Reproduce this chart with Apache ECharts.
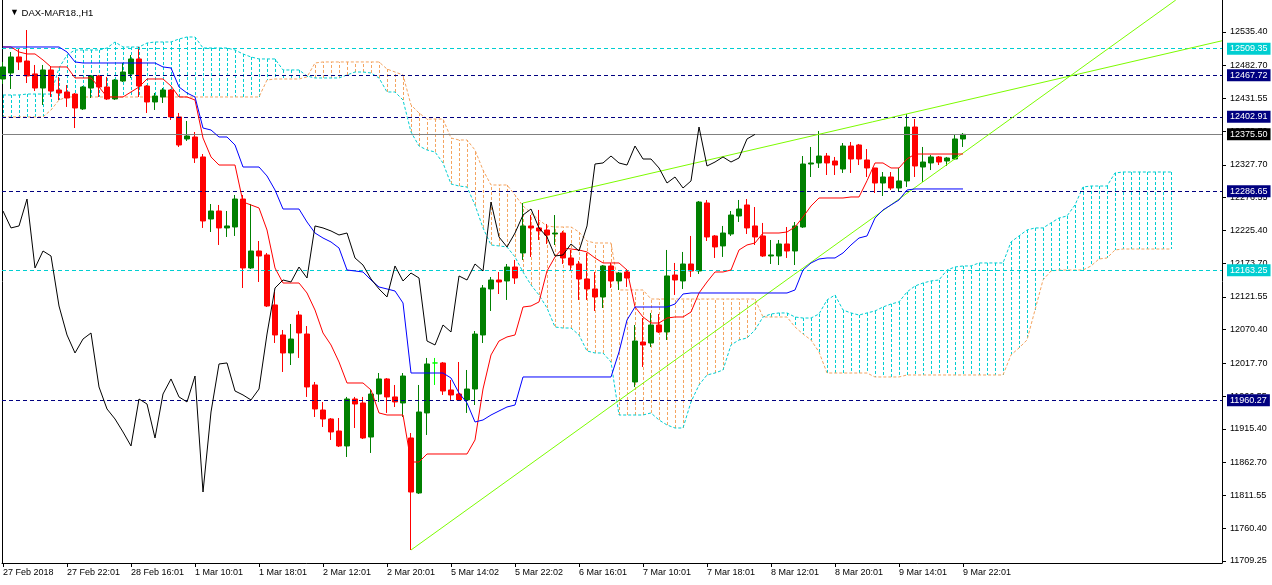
<!DOCTYPE html>
<html>
<head>
<meta charset="utf-8">
<title>DAX-MAR18.,H1</title>
<script src="https://cdn.jsdelivr.net/npm/echarts@6/dist/echarts.min.js"></script>
<style>
  html, body { margin: 0; padding: 0; background: #fff; }
  #main { width: 1272px; height: 585px; }
</style>
</head>
<body>
<div id="main"></div>
<script>
// DAX March future, H1 bars (09:01 - 22:01 each day)
const timeLabels = ['27 Feb 2018', '27 Feb 22:01', '28 Feb 16:01', '1 Mar 10:01', '1 Mar 18:01',
  '2 Mar 12:01', '2 Mar 20:01', '5 Mar 14:02', '5 Mar 22:02', '6 Mar 16:01', '7 Mar 10:01',
  '7 Mar 18:01', '8 Mar 12:01', '8 Mar 20:01', '9 Mar 14:01', '9 Mar 22:01'];
const labelStep = 8; // one time label every 8 bars

const opens = [
  12462.0, 12471.4, 12496.4, 12490.1, 12469.9, 12447.9, 12476.1, 12444.8, 12441.7, 12438.5,
  12415.2, 12447.9, 12466.7, 12449.5, 12430.8, 12458.8, 12469.9, 12493.3, 12451.0, 12426.1,
  12433.9, 12444.8, 12402.7, 12368.3, 12371.4, 12340.2, 12243.3, 12255.8, 12229.3, 12230.8,
  12274.5, 12166.8, 12193.3, 12187.1, 12109.0, 12062.1, 12034.0, 12093.3, 12063.6, 11984.0,
  11944.9, 11930.9, 11912.1, 11888.7, 11962.1, 11955.9, 11902.7, 11969.9, 11993.4, 11965.3,
  11955.9, 11901.2, 11815.3, 11940.3, 12018.4, 12018.4, 11976.2, 11969.9, 11960.6, 11977.7,
  12062.1, 12134.0, 12148.0, 12146.5, 12168.3, 12190.2, 12232.4, 12229.3, 12226.1, 12219.9,
  12221.4, 12182.4, 12173.0, 12149.6, 12134.0, 12121.5, 12169.9, 12146.5, 12160.5, 11988.7,
  12051.1, 12049.6, 12077.7, 12066.8, 12155.8, 12146.5, 12173.0, 12162.1, 12268.3, 12216.8,
  12201.2, 12219.9, 12248.0, 12265.2, 12232.4, 12216.8, 12185.5, 12185.5, 12204.3, 12193.3,
  12230.8, 12329.2, 12330.8, 12341.7, 12333.9, 12321.4, 12357.3, 12358.9, 12335.5, 12323.0,
  12299.5, 12308.9, 12291.7, 12302.7, 12387.0, 12324.5, 12330.8, 12340.2, 12333.9, 12337.0,
  12368.3];
const closes = [
  12480.8, 12496.4, 12488.6, 12466.7, 12447.9, 12476.1, 12443.2, 12440.1, 12432.3, 12416.7,
  12449.5, 12466.7, 12449.5, 12430.8, 12460.4, 12472.9, 12493.3, 12451.0, 12426.1, 12435.4,
  12444.8, 12402.7, 12358.9, 12373.0, 12338.6, 12240.2, 12255.8, 12229.3, 12232.4, 12274.5,
  12166.8, 12193.3, 12185.5, 12107.4, 12062.1, 12034.0, 12055.8, 12065.2, 11980.9, 11946.5,
  11930.9, 11910.6, 11888.7, 11962.1, 11954.3, 11901.2, 11969.9, 11993.4, 11965.3, 11957.5,
  11998.0, 11816.8, 11941.8, 12016.8, 12018.4, 11974.6, 11968.4, 11960.6, 11977.7, 12063.6,
  12135.5, 12148.0, 12144.9, 12168.3, 12151.1, 12232.4, 12229.3, 12224.6, 12218.3, 12221.4,
  12182.4, 12171.4, 12149.6, 12134.0, 12121.5, 12169.9, 12146.5, 12158.9, 12151.1, 12052.7,
  12046.5, 12077.7, 12066.8, 12154.3, 12148.0, 12173.0, 12162.1, 12269.8, 12215.2, 12199.6,
  12221.4, 12249.5, 12258.9, 12229.3, 12215.2, 12185.5, 12187.1, 12204.3, 12193.3, 12232.4,
  12329.2, 12330.8, 12341.7, 12330.8, 12327.6, 12357.3, 12337.0, 12337.0, 12323.0, 12299.5,
  12308.9, 12291.7, 12302.7, 12387.0, 12326.1, 12332.3, 12340.2, 12332.3, 12338.6, 12368.3,
  12375.5];
const lows = [
  12454.2, 12446.4, 12476.1, 12455.7, 12443.2, 12421.4, 12433.9, 12429.2, 12418.3, 12385.4,
  12413.6, 12432.3, 12433.9, 12429.2, 12429.2, 12457.3, 12463.6, 12433.9, 12408.9, 12413.6,
  12424.5, 12398.0, 12355.8, 12365.2, 12330.8, 12229.3, 12223.0, 12202.7, 12215.2, 12216.8,
  12135.5, 12165.2, 12144.9, 12105.8, 12049.6, 12004.3, 12015.2, 12026.2, 11965.3, 11934.0,
  11918.4, 11898.1, 11887.1, 11871.5, 11916.8, 11899.6, 11877.8, 11957.5, 11940.3, 11949.6,
  11934.0, 11726.2, 11813.7, 11905.9, 11984.0, 11968.4, 11960.6, 11959.0, 11940.3, 11952.7,
  12049.6, 12099.6, 12126.1, 12116.8, 12141.8, 12179.3, 12184.0, 12210.5, 12204.3, 12202.7,
  12173.0, 12163.6, 12116.8, 12116.8, 12099.6, 12104.3, 12135.5, 12132.4, 12137.1, 11980.9,
  12012.1, 12043.4, 12065.2, 12054.3, 12124.6, 12134.0, 12152.7, 12157.4, 12208.9, 12182.4,
  12184.0, 12216.8, 12238.6, 12219.9, 12202.7, 12184.0, 12173.0, 12171.4, 12182.4, 12171.4,
  12229.3, 12308.9, 12323.0, 12312.0, 12312.0, 12315.2, 12315.2, 12327.6, 12308.9, 12283.9,
  12279.2, 12288.6, 12287.0, 12293.3, 12308.9, 12301.1, 12319.8, 12327.6, 12326.1, 12335.5,
  12355.8];
const highs = [
  12488.6, 12504.2, 12510.4, 12538.5, 12483.9, 12483.9, 12480.8, 12465.2, 12452.6, 12440.1,
  12451.0, 12468.3, 12468.3, 12465.2, 12462.0, 12487.0, 12499.5, 12512.0, 12452.6, 12440.1,
  12447.9, 12446.4, 12408.9, 12396.4, 12379.2, 12344.8, 12266.7, 12265.2, 12255.8, 12280.8,
  12280.8, 12266.7, 12208.9, 12190.2, 12129.3, 12069.9, 12079.3, 12099.6, 12076.1, 11988.7,
  11957.5, 11932.4, 11932.4, 11965.3, 11965.3, 11965.3, 11976.2, 12002.7, 11994.9, 11984.0,
  12002.7, 11909.0, 11984.0, 12026.2, 12026.2, 12019.9, 11991.8, 12019.9, 12007.4, 12068.3,
  12140.2, 12152.7, 12160.5, 12173.0, 12179.3, 12268.3, 12249.5, 12257.4, 12235.5, 12249.5,
  12224.6, 12194.9, 12177.7, 12190.2, 12160.5, 12171.4, 12174.6, 12160.5, 12165.2, 12077.7,
  12088.6, 12096.5, 12094.9, 12194.9, 12174.6, 12191.8, 12216.8, 12271.4, 12273.0, 12218.3,
  12232.4, 12255.8, 12273.0, 12274.5, 12262.0, 12237.1, 12210.5, 12210.5, 12230.8, 12238.6,
  12341.7, 12355.8, 12380.8, 12346.4, 12340.2, 12362.0, 12363.6, 12360.5, 12352.6, 12323.0,
  12316.7, 12316.7, 12323.0, 12407.3, 12399.5, 12355.8, 12343.3, 12341.7, 12340.2, 12374.5,
  12377.6];

// Ichimoku lines as drawn on the chart
const tenkan = [
  12512.0, 12512.0, 12504.2, 12501.1, 12501.1, 12491.7, 12480.8, 12480.8, 12480.8, 12463.6,
  12463.6, 12463.6, 12449.5, 12433.9, 12433.9, 12433.9, 12441.7, 12449.5, 12462.0, 12462.0,
  12462.0, 12451.0, 12433.9, 12433.9, 12429.2, 12369.8, 12340.2, 12327.6, 12327.6, 12327.6,
  12269.8, 12265.2, 12260.5, 12226.1, 12166.8, 12143.3, 12143.3, 12143.3, 12127.7, 12101.1,
  12065.2, 12046.5, 12019.9, 11987.1, 11987.1, 11987.1, 11976.2, 11940.3, 11937.1, 11937.1,
  11937.1, 11863.7, 11863.7, 11876.2, 11876.2, 11876.2, 11876.2, 11876.2, 11876.2, 11898.1,
  11977.7, 12030.9, 12052.7, 12059.0, 12062.1, 12105.8, 12107.4, 12113.7, 12162.1, 12184.0,
  12198.0, 12196.4, 12194.9, 12191.8, 12182.4, 12174.6, 12174.6, 12174.6, 12163.6, 12105.8,
  12090.2, 12080.8, 12080.8, 12088.6, 12090.2, 12090.2, 12098.0, 12127.7, 12144.9, 12160.5,
  12160.5, 12163.6, 12194.9, 12202.7, 12205.8, 12221.4, 12221.4, 12221.4, 12223.0, 12230.8,
  12246.4, 12263.6, 12276.1, 12276.1, 12276.1, 12276.1, 12277.7, 12277.7, 12303.0, 12330.8,
  12330.8, 12323.0, 12323.0, 12337.0, 12344.8, 12344.8, 12344.8, 12344.8, 12344.8, 12344.8,
  12344.8];
const kijun = [
  12512.0, 12512.0, 12512.0, 12512.0, 12512.0, 12512.0, 12512.0, 12512.0, 12504.2, 12488.6,
  12487.0, 12487.0, 12487.0, 12487.0, 12487.0, 12487.0, 12487.0, 12487.0, 12487.0, 12487.0,
  12480.8, 12479.2, 12449.5, 12440.1, 12433.9, 12385.4, 12382.3, 12371.4, 12371.4, 12358.9,
  12324.5, 12324.5, 12324.5, 12310.5, 12288.6, 12258.9, 12258.9, 12258.9, 12238.6, 12221.4,
  12213.6, 12207.4, 12198.0, 12163.6, 12162.1, 12160.5, 12148.0, 12137.1, 12134.0, 12130.8,
  12112.1, 12002.7, 12002.7, 12002.7, 12002.7, 12002.7, 11994.9, 11971.5, 11955.9, 11926.2,
  11929.3, 11937.1, 11943.4, 11949.6, 11952.7, 11996.5, 11996.5, 11996.5, 11996.5, 11996.5,
  11996.5, 11996.5, 11996.5, 11996.5, 11996.5, 11996.5, 11996.5, 12035.5, 12085.5, 12105.8,
  12105.8, 12105.8, 12105.8, 12105.8, 12110.5, 12126.1, 12127.7, 12127.7, 12127.7, 12127.7,
  12127.7, 12127.7, 12127.7, 12127.7, 12127.7, 12127.7, 12127.7, 12127.7, 12127.7, 12132.4,
  12163.6, 12174.6, 12180.8, 12182.4, 12182.4, 12190.2, 12202.7, 12213.6, 12216.8, 12244.8,
  12257.4, 12265.2, 12273.0, 12288.6, 12290.2, 12290.2, 12290.2, 12290.2, 12290.2, 12290.2,
  12290.2];
// cloud spans, already shifted 26 bars ahead (147 slots)
const spanA = [
  12437.0, 12437.0, 12437.0, 12438.5, 12438.5, 12438.5, 12438.5, 12479.2, 12499.5, 12507.3,
  12507.3, 12507.3, 12507.3, 12510.4, 12519.8, 12512.0, 12512.0, 12512.0, 12518.2, 12519.8,
  12519.8, 12519.8, 12524.5, 12527.6, 12527.6, 12510.4, 12510.4, 12510.4, 12510.4, 12507.3,
  12501.1, 12496.4, 12493.3, 12493.3, 12493.3, 12476.1, 12476.1, 12476.1, 12466.7, 12463.6,
  12463.6, 12463.6, 12463.6, 12468.3, 12472.9, 12472.9, 12471.4, 12463.6, 12441.7, 12441.7,
  12429.2, 12379.2, 12357.3, 12351.1, 12348.0, 12330.8, 12298.0, 12294.8, 12293.3, 12265.2,
  12229.3, 12202.7, 12201.2, 12199.6, 12184.0, 12160.5, 12140.2, 12124.6, 12104.3, 12074.6,
  12073.0, 12073.0, 12062.1, 12037.1, 12034.0, 12034.0, 12019.9, 11937.1, 11937.1, 11937.1,
  11937.1, 11940.3, 11929.3, 11921.5, 11916.8, 11916.8, 11957.5, 11984.0, 11999.6, 12002.7,
  12007.4, 12046.5, 12054.3, 12057.4, 12069.9, 12090.2, 12094.9, 12096.5, 12096.5, 12090.2,
  12088.6, 12088.6, 12094.9, 12116.8, 12124.6, 12101.1, 12096.5, 12093.3, 12096.5, 12099.6,
  12105.8, 12110.5, 12113.7, 12129.3, 12138.6, 12143.3, 12146.5, 12148.0, 12163.6, 12168.3,
  12169.9, 12169.9, 12174.6, 12174.6, 12174.6, 12174.6, 12207.4, 12216.8, 12226.1, 12229.3,
  12229.3, 12237.1, 12244.8, 12248.0, 12265.2, 12293.3, 12294.8, 12294.8, 12294.8, 12315.2,
  12316.7, 12316.7, 12316.7, 12316.7, 12316.7, 12316.7, 12316.7];
const spanB = [
  12402.7, 12402.7, 12402.7, 12402.7, 12402.7, 12402.7, 12413.6, 12429.2, 12433.9, 12433.9,
  12433.9, 12433.9, 12433.9, 12433.9, 12433.9, 12433.9, 12433.9, 12433.9, 12433.9, 12433.9,
  12433.9, 12433.9, 12433.9, 12433.9, 12433.9, 12433.9, 12433.9, 12433.9, 12433.9, 12433.9,
  12433.9, 12433.9, 12433.9, 12460.4, 12462.0, 12462.0, 12462.0, 12462.0, 12465.2, 12487.0,
  12488.6, 12488.6, 12488.6, 12488.6, 12488.6, 12488.6, 12488.6, 12488.6, 12477.6, 12472.9,
  12468.3, 12421.4, 12408.9, 12399.5, 12399.5, 12399.5, 12369.8, 12366.7, 12366.7, 12351.1,
  12319.8, 12296.4, 12296.4, 12296.4, 12280.8, 12263.6, 12252.7, 12241.7, 12232.4, 12230.8,
  12230.8, 12230.8, 12223.0, 12208.9, 12205.8, 12205.8, 12205.8, 12132.4, 12132.4, 12132.4,
  12132.4, 12118.3, 12118.3, 12118.3, 12118.3, 12118.3, 12118.3, 12118.3, 12118.3, 12118.3,
  12118.3, 12118.3, 12118.3, 12118.3, 12118.3, 12090.2, 12090.2, 12090.2, 12090.2, 12074.6,
  12063.6, 12054.3, 12035.5, 12002.7, 12002.7, 12002.7, 12002.7, 12002.7, 12002.7, 11996.5,
  11996.5, 11996.5, 11996.5, 11999.6, 11999.6, 11999.6, 11999.6, 11999.6, 11999.6, 11999.6,
  11999.6, 11999.6, 11999.6, 11999.6, 11999.6, 11999.6, 12030.9, 12041.8, 12054.3, 12101.1,
  12148.0, 12162.1, 12163.6, 12163.6, 12163.6, 12163.6, 12169.9, 12180.8, 12182.4, 12194.9,
  12196.4, 12196.4, 12196.4, 12196.4, 12196.4, 12196.4, 12196.4];
const chikouShift = 26;

// horizontal levels: resistance/support, current bid
const cyanLevels = [12509.35, 12163.25];
const navyLevels = [12467.72, 12402.91, 12286.65, 11960.27];
const bidPrice = 12375.50;

// trend lines as [bar, price] end points
const trendLow = [[51, 11726.2], [146.6, 12585.4]];
const trendHigh = [[65, 12268.3], [152.375, 12521.7]];

const priceTicks = [12535.40, 12482.70, 12431.55, 12379.70, 12327.70, 12276.55, 12225.40, 12173.70,
  12121.55, 12070.40, 12017.70, 11966.55, 11915.40, 11862.70, 11811.55, 11760.40, 11709.25];

const CYAN = '#00CED1';
const SANDY = '#F4A460';
const NAVY = '#000080';
const BULL = '#008000';
const BEAR = '#FF0000';
const FONT = 'Liberation Sans, Arial, sans-serif';

const chart = echarts.init(document.getElementById('main'));

function levelLine(value, color, solid, tagColor) {
  return {
    yAxis: value,
    lineStyle: { color: color, width: 1, type: solid ? 'solid' : [4, 3] },
    label: {
      show: true, position: 'end', distance: 5,
      formatter: value.toFixed(2),
      color: '#fff', backgroundColor: tagColor || color,
      padding: [2, 3, 1, 3], fontSize: 9, fontFamily: FONT
    }
  };
}

const candleData = opens.map(function (o, i) {
  const item = { value: [i, o, closes[i], lows[i], highs[i]] };
  if (o === closes[i]) {
    item.itemStyle = { color: '#00FF00', borderColor: '#00FF00', borderColor0: '#00FF00' };
  }
  return item;
});

const hLines = []
  .concat(cyanLevels.map(function (v) { return levelLine(v, CYAN, false); }))
  .concat(navyLevels.map(function (v) { return levelLine(v, NAVY, false); }))
  .concat([levelLine(bidPrice, '#808080', true, '#000')]);

const trendStyle = { color: '#7CFC00', width: 1, type: 'solid' };

const option = {
  animation: false,
  backgroundColor: '#fff',
  title: {
    text: '{tri|▼} DAX-MAR18.,H1',
    left: 5, top: 3,
    textStyle: {
      fontSize: 9.5, fontWeight: 'normal', color: '#000', fontFamily: FONT,
      rich: { tri: { fontSize: 9, color: '#000' } }
    }
  },
  grid: { left: 2, right: 50, top: 0, bottom: 22, containLabel: false },
  xAxis: {
    type: 'value',
    min: -0.125,
    max: 152.375,
    axisLine: { show: true, onZero: false, lineStyle: { color: '#000', width: 1 } },
    axisTick: {
      show: true, length: 4, lineStyle: { color: '#000' },
      customValues: timeLabels.map(function (_, k) { return k * labelStep; })
    },
    axisLabel: {
      show: true, color: '#000', fontSize: 9, fontFamily: FONT, margin: 5, align: 'left',
      customValues: timeLabels.map(function (_, k) { return k * labelStep; }),
      formatter: function (v) { return timeLabels[Math.round(v / labelStep)]; }
    },
    splitLine: { show: false }
  },
  yAxis: [{
    type: 'value',
    position: 'right',
    min: 11705.9,
    max: 12585.4,
    axisLine: { show: true, onZero: false, lineStyle: { color: '#000', width: 1 } },
    axisTick: { show: true, length: 4, lineStyle: { color: '#000' }, customValues: priceTicks },
    axisLabel: {
      show: true, color: '#000', fontSize: 9, fontFamily: FONT, margin: 8,
      customValues: priceTicks,
      formatter: function (v) { return v.toFixed(2); }
    },
    splitLine: { show: false }
  }, {
    type: 'value',
    position: 'left',
    min: 11705.9,
    max: 12585.4,
    axisLine: { show: true, onZero: false, lineStyle: { color: '#000', width: 1 } },
    axisTick: { show: false },
    axisLabel: { show: false },
    splitLine: { show: false }
  }],
  series: [
    {
      // cloud hatch: one dotted stroke per bar between the two spans
      type: 'custom',
      name: 'Kumo',
      silent: true,
      z: 1,
      encode: { x: 0, y: [1, 2] },
      data: spanA.map(function (a, i) { return [i, a, spanB[i]]; }),
      renderItem: function (params, api) {
        const a = api.value(1), b = api.value(2);
        const p1 = api.coord([api.value(0), a]);
        const p2 = api.coord([api.value(0), b]);
        const x = Math.round(p1[0]) + 0.5;
        return {
          type: 'line',
          shape: { x1: x, y1: p1[1], x2: x, y2: p2[1] },
          style: { stroke: a >= b ? CYAN : SANDY, lineWidth: 1, lineDash: [3, 2] }
        };
      }
    },
    {
      type: 'line', name: 'Senkou Span A', z: 2, showSymbol: false, silent: true,
      data: spanA.map(function (v, i) { return [i, v]; }),
      lineStyle: { color: CYAN, width: 1, type: [3, 2] }
    },
    {
      type: 'line', name: 'Senkou Span B', z: 2, showSymbol: false, silent: true,
      data: spanB.map(function (v, i) { return [i, v]; }),
      lineStyle: { color: SANDY, width: 1, type: [3, 2] }
    },
    {
      type: 'line', name: 'levels', z: 3, silent: true, data: [],
      markLine: { silent: true, symbol: 'none', animation: false, data: hLines }
    },
    {
      type: 'candlestick',
      name: 'DAX-MAR18.',
      z: 4,
      barWidth: 5,
      encode: { x: 0, y: [1, 2, 3, 4] },
      data: candleData,
      itemStyle: {
        color: BULL, color0: BEAR,
        borderColor: BULL, borderColor0: BEAR, borderColorDoji: '#00FF00',
        borderWidth: 1
      }
    },
    {
      type: 'line', name: 'Tenkan-sen', z: 5, showSymbol: false, silent: true,
      data: tenkan.map(function (v, i) { return [i, v]; }),
      lineStyle: { color: '#FF0000', width: 1 }
    },
    {
      type: 'line', name: 'Kijun-sen', z: 5, showSymbol: false, silent: true,
      data: kijun.map(function (v, i) { return [i, v]; }),
      lineStyle: { color: '#0000FF', width: 1 }
    },
    {
      type: 'line', name: 'Chikou Span', z: 5, showSymbol: false, silent: true,
      data: closes.slice(chikouShift).map(function (v, k) { return [k, v]; }),
      lineStyle: { color: '#000', width: 1 }
    },
    {
      type: 'line', name: 'trend', z: 6, silent: true, data: [],
      markLine: {
        silent: true, symbol: 'none', animation: false, label: { show: false },
        lineStyle: trendStyle,
        data: [
          [{ coord: trendLow[0] }, { coord: trendLow[1] }],
          [{ coord: trendHigh[0] }, { coord: trendHigh[1] }]
        ]
      }
    }
  ]
};

chart.setOption(option);
</script>
</body>
</html>
